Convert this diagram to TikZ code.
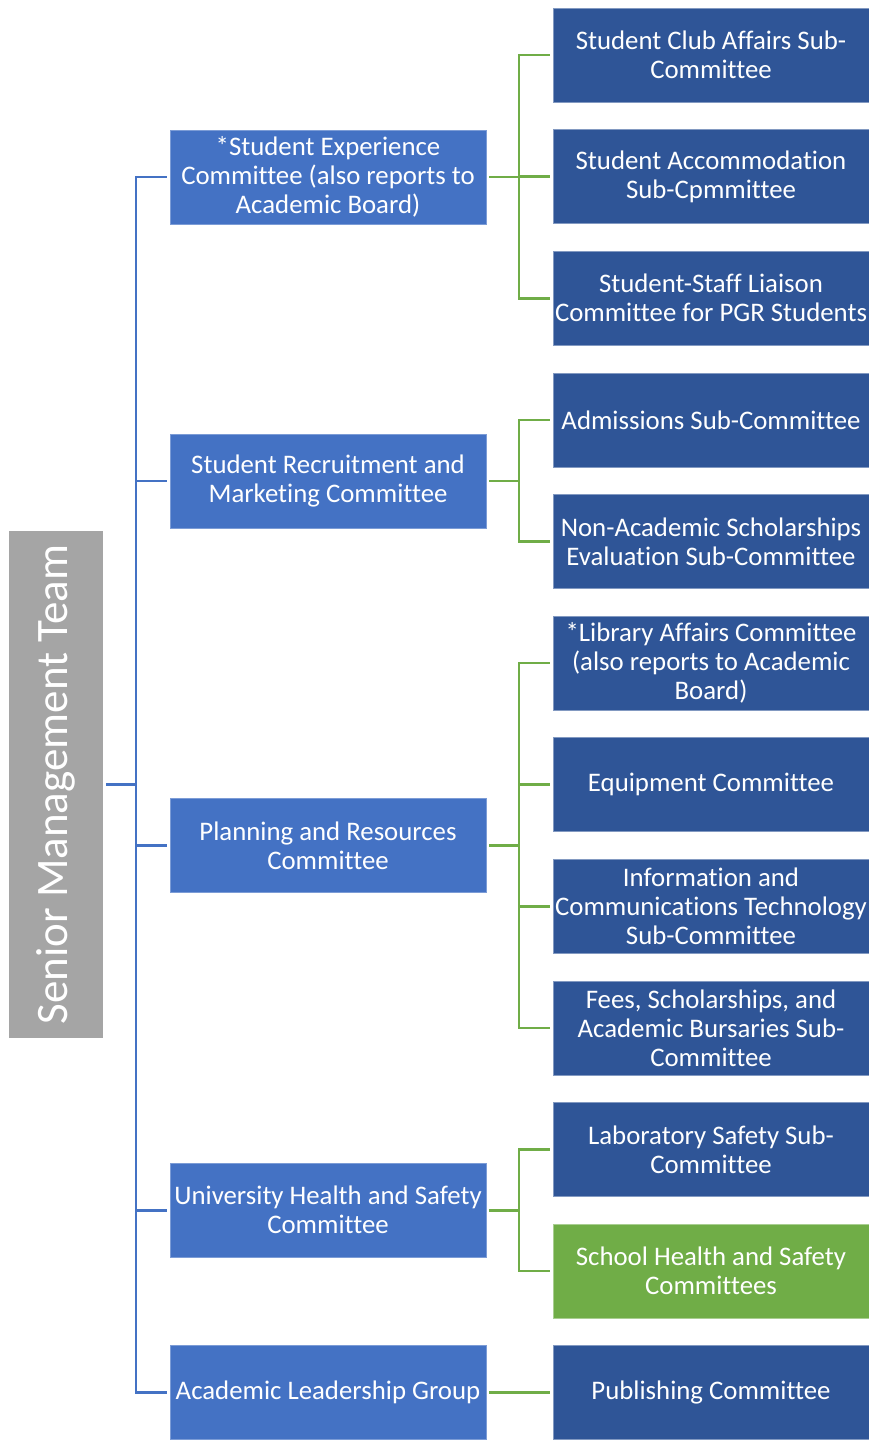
\documentclass[tikz,border=0pt]{standalone}
\usepackage{fontspec}
\setmainfont{Carlito}[Ligatures={NoCommon}]
\definecolor{midblue}{HTML}{4472C4}
\definecolor{darkblue}{HTML}{2F5597}
\definecolor{leafgreen}{HTML}{70AD47}
\definecolor{smtgray}{HTML}{A5A5A5}
\begin{document}
\begin{tikzpicture}[x=1pt,y=-1pt,
  box/.style={rectangle, inner sep=0pt, minimum width=316pt, minimum height=94pt,
    align=center, text=white, font=\fontsize{26.8}{29}\selectfont},
  midbox/.style={box, fill=midblue, draw=midblue!70!white, line width=0.6pt},
  leafbox/.style={box, fill=darkblue, draw=darkblue!60!white, line width=0.6pt},
  greenbox/.style={box, fill=leafgreen, draw=leafgreen!60!white, line width=0.6pt},
  bl/.style={draw=midblue, line width=2.6pt},
  gl/.style={draw=leafgreen, line width=2.6pt}]
\useasboundingbox (0,0) rectangle (868,1440);

\node[rectangle, fill=smtgray, inner sep=0pt, minimum width=507pt, minimum height=94pt,
  rotate=90, text=white, font=\fontsize{45}{50}\selectfont] (smt) at (56,784.5) {Senior Management Team};

\node[midbox] (m1) at (328,177) {*Student Experience\\Committee (also reports to\\Academic Board)};
\node[midbox] (m2) at (328,481) {Student Recruitment and\\Marketing Committee};
\node[midbox] (m3) at (328,845.4) {Planning and Resources\\Committee};
\node[midbox] (m4) at (328,1210.2) {University Health and Safety\\Committee};
\node[midbox] (m5) at (328,1392.6) {Academic Leadership Group};

\node[leafbox] (r1) at (711,55) {Student Club Affairs Sub-\\Committee};
\node[leafbox] (r2) at (711,176.6) {Student Accommodation\\Sub-Cpmmittee};
\node[leafbox] (r3) at (711,298.2) {Student-Staff Liaison\\Committee for PGR Students};
\node[leafbox] (r4) at (711,419.8) {Admissions Sub-Committee};
\node[leafbox] (r5) at (711,541.4) {Non-Academic Scholarships\\Evaluation Sub-Committee};
\node[leafbox] (r6) at (711,663) {*Library Affairs Committee\\(also reports to Academic\\Board)};
\node[leafbox] (r7) at (711,784.6) {Equipment Committee};
\node[leafbox] (r8) at (711,906.2) {Information and\\Communications Technology\\Sub-Committee};
\node[leafbox] (r9) at (711,1027.8) {Fees, Scholarships, and\\Academic Bursaries Sub-\\Committee};
\node[leafbox] (r10) at (711,1149.4) {Laboratory Safety Sub-\\Committee};
\node[greenbox] (r11) at (711,1271) {School Health and Safety\\Committees};
\node[leafbox] (r12) at (711,1392.6) {Publishing Committee};

\coordinate (bx) at (136,0);
\coordinate (gx) at (519,0);

% blue connectors
\draw[bl] ([xshift=3pt]smt.south) -- (smt.south -| bx);
\draw[bl] ([xshift=-3pt]m1.west) -- (m1.west -| bx) -- (m5.west -| bx) -- ([xshift=-3pt]m5.west);
\draw[bl] ([xshift=-3pt]m2.west) -- (m2.west -| bx);
\draw[bl] ([xshift=-3pt]m3.west) -- (m3.west -| bx);
\draw[bl] ([xshift=-3pt]m4.west) -- (m4.west -| bx);

% green connectors
\draw[gl] ([xshift=3pt]m1.east) -- (m1.east -| gx);
\draw[gl] ([xshift=-3pt]r1.west) -- (r1.west -| gx) -- (r3.west -| gx) -- ([xshift=-3pt]r3.west);
\draw[gl] ([xshift=-3pt]r2.west) -- (r2.west -| gx);

\draw[gl] ([xshift=3pt]m2.east) -- (m2.east -| gx);
\draw[gl] ([xshift=-3pt]r4.west) -- (r4.west -| gx) -- (r5.west -| gx) -- ([xshift=-3pt]r5.west);

\draw[gl] ([xshift=3pt]m3.east) -- (m3.east -| gx);
\draw[gl] ([xshift=-3pt]r6.west) -- (r6.west -| gx) -- (r9.west -| gx) -- ([xshift=-3pt]r9.west);
\draw[gl] ([xshift=-3pt]r7.west) -- (r7.west -| gx);
\draw[gl] ([xshift=-3pt]r8.west) -- (r8.west -| gx);

\draw[gl] ([xshift=3pt]m4.east) -- (m4.east -| gx);
\draw[gl] ([xshift=-3pt]r10.west) -- (r10.west -| gx) -- (r11.west -| gx) -- ([xshift=-3pt]r11.west);

\draw[gl] ([xshift=3pt]m5.east) -- ([xshift=-3pt]r12.west);
\end{tikzpicture}
\end{document}
